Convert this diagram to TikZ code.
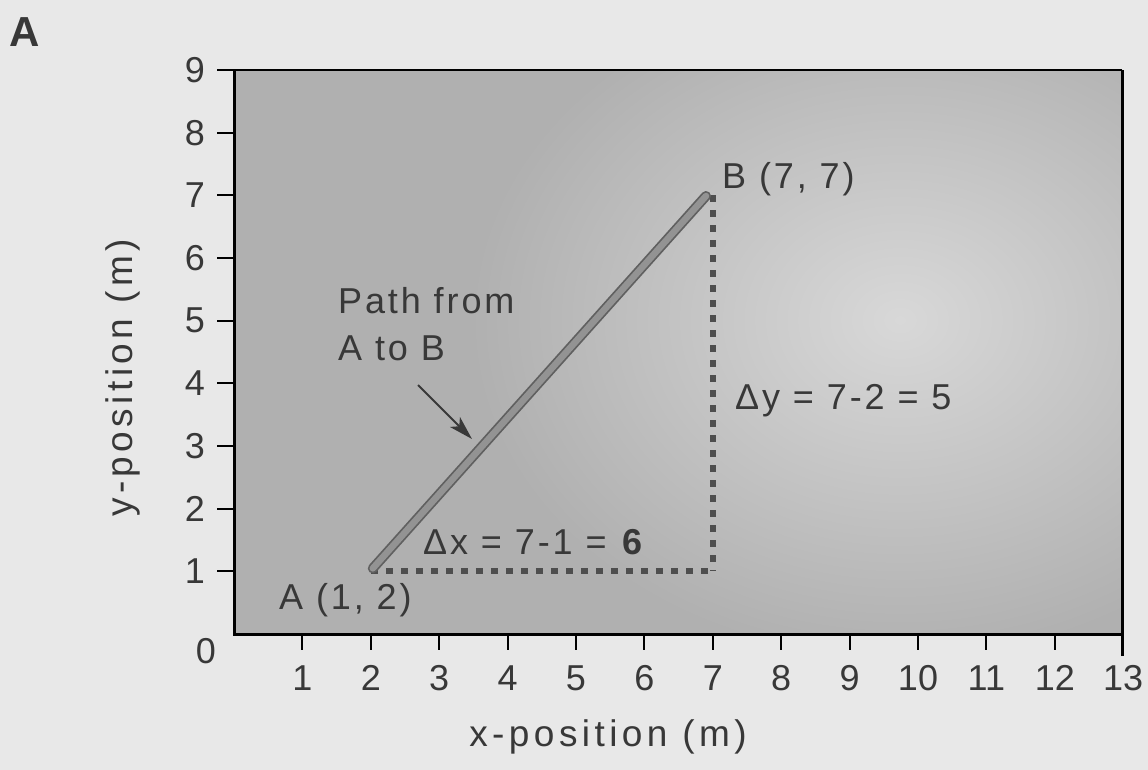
\documentclass[tikz,border=0pt]{standalone}
\usepackage{fontspec}
\setmainfont{Liberation Sans}
\newfontfamily\spaced[LetterSpace=8]{Liberation Sans}
\newfontfamily\spacedt[LetterSpace=12]{Liberation Sans}
\usetikzlibrary{arrows.meta}
\definecolor{bg}{HTML}{E8E8E8}
\definecolor{plotbase}{HTML}{B0B0B0}
\definecolor{plotlight}{HTML}{D8D8D8}
\definecolor{ink}{HTML}{383838}
\definecolor{pathgray}{HTML}{939393}
\definecolor{pathedge}{HTML}{606060}
\definecolor{dotgray}{HTML}{4E4E4E}
\begin{document}
\begin{tikzpicture}[x=1pt,y=-1pt,
  lbl/.style={font=\spaced\fontsize{36}{42}\selectfont, text=ink, inner sep=0pt},
  ticklbl/.style={font=\fontsize{36}{42}\selectfont, text=ink, inner sep=0pt},
  axtitle/.style={font=\spacedt\fontsize{37}{42}\selectfont, text=ink, inner sep=0pt},
  frame/.style={draw=black, line width=3pt},
  tickline/.style={draw=black, line width=2pt},
  dotline/.style={draw=dotgray, line width=6pt, dash pattern=on 7pt off 8pt},
  pathline/.style={line width=10pt, draw=pathedge, line cap=round},
  pathinner/.style={line width=6.5pt, draw=pathgray, line cap=round},
  pointer/.style={draw=ink, line width=1.8pt, -{Stealth[length=24pt,width=14pt,inset=6pt]}}]
\useasboundingbox (0,0) rectangle (1148,770);
\fill[bg] (0,0) rectangle (1148,770);
% plot area
\fill[plotbase] (234,70) rectangle (1122,634);
\begin{scope}
  \clip (234,70) rectangle (1122,634);
  \shade[inner color=plotlight, outer color=plotbase] (900,320) ellipse [x radius=430pt, y radius=340pt];
\end{scope}
% frame
\draw[frame] (1122,656) -- (1122,70);
\draw[draw=black, line width=2pt] (217,70) -- (1122,70);
\draw[frame] (234,70) -- (234,634) -- (1122,634);
% data scope
\begin{scope}[shift={(234,634)}, x=68.4pt, y=62.65pt]
  \foreach \v in {1,...,8} {
    \draw[tickline] (-17pt,\v) -- (0,\v);
    \node[ticklbl] (ylab\v) at ([xshift=-39pt]0,\v) {\v};
  }
  \node[ticklbl] (ylab9) at ([xshift=-39pt]0,9) {9};
  \foreach \u in {1,...,12} {
    \draw[tickline] (\u,0) -- ([yshift=-16pt]\u,0);
  }
  \foreach \u in {1,...,13} {
    \node[ticklbl] (xlab\u) at ([yshift=-44pt]\u,0) {\u};
  }
  \coordinate (A) at (2,1);
  \coordinate (B) at (7,7);
  \coordinate (C) at (7,1);
\end{scope}
\node[ticklbl] (zero) at (206,651) {0};
% dotted legs
\draw[dotline] (A) -- (C);
\draw[dotline] (B) -- (C);
% path A to B
\draw[pathline] ([shift={(2pt,3pt)}]A) -- (706,196);
\draw[pathinner] ([shift={(2pt,3pt)}]A) -- (706,196);
% labels
\node[lbl, anchor=west] (Alab) at (279,600) {A (1, 2)};
\node[lbl, anchor=west] (Blab) at (722,179) {B (7, 7)};
\node[lbl, anchor=west] (dy) at (735,401) {Δy = 7-2 = 5};
\node[lbl, anchor=west] (dx) at (423,542) {Δx = 7-1 = \textbf{6}};
\node[lbl, anchor=north west, align=left, font=\spaced\fontsize{36}{47}\selectfont] (pathlab) at (338,287) {Path from\\A to B};
\coordinate (ptail) at (418,385);
\coordinate (phead) at (472,439);
\draw[pointer] (ptail) -- (phead);
% axis titles
\node[axtitle] (xtitle) at (608,737) {x-position (m)};
\node[axtitle, rotate=90] (ytitle) at (123,378) {y-position (m)};
% panel letter
\node[font=\fontsize{42}{46}\selectfont\bfseries, text=ink, inner sep=0pt] (panel) at (25,32) {A};
\end{tikzpicture}
\end{document}
